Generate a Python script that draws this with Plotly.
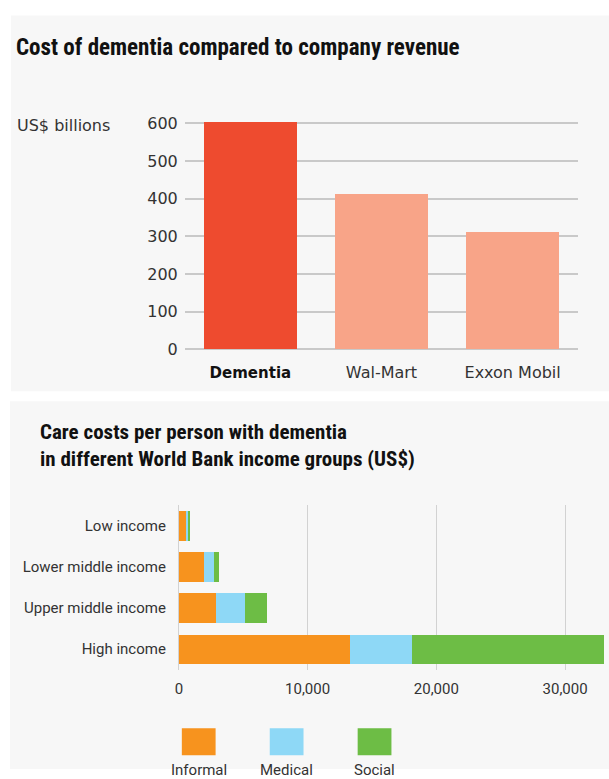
import plotly.graph_objects as go

W, H = 609, 779

# ---- data: top chart ----
companies = ["Dementia", "Wal-Mart", "Exxon Mobil"]
revenue_bn = [604, 412, 311]
company_colors = ["#EE4B2F", "#F8A488", "#F8A488"]
top_ticks = [0, 100, 200, 300, 400, 500, 600]

# ---- data: bottom chart ----
income_groups = ["Low income", "Lower middle income", "Upper middle income", "High income"]
cost_types = ["Informal", "Medical", "Social"]
informal = [540, 1960, 2910, 13310]
medical = [230, 740, 2190, 4790]
social = [90, 410, 1740, 14950]
cost_colors = ["#F7931E", "#8ED8F6", "#6DBD45"]
bottom_ticks = [0, 10000, 20000, 30000]
bottom_ticktext = ["0", "10,000", "20,000", "30,000"]

# screen-pixel -> paper-fraction helpers (empirical correction of the capture)
OY, SY = 6.5, 0.9785
OX = 2.0


def px_x(p):
    return (p - OX) / W


def px_y(p):
    return 1 - ((p - OY) / SY) / H


fig = go.Figure()

fig.add_trace(go.Bar(
    x=companies, y=revenue_bn, marker=dict(color=company_colors, line=dict(width=0)),
    xaxis="x", yaxis="y", showlegend=False, hoverinfo="x+y"))

for name, vals, col in zip(cost_types, [informal, medical, social], cost_colors):
    fig.add_trace(go.Bar(
        y=income_groups, x=vals, orientation="h", name=name,
        marker=dict(color=col, line=dict(width=0)),
        xaxis="x2", yaxis="y2", showlegend=False))

DJ = "DejaVu Sans"
RB = "Roboto"
NARROW = "Liberation Sans Narrow, Roboto Condensed, DejaVu Sans Condensed, Roboto"

x2_left, x2_right = 178, 609
x2_max = (x2_right - x2_left) / 129.6 * 10000

fig.update_layout(
    width=W, height=H, autosize=False,
    margin=dict(l=0, r=0, t=0, b=0),
    paper_bgcolor="white", plot_bgcolor="rgba(0,0,0,0)",
    barmode="stack", bargap=0.288,
    xaxis=dict(domain=[px_x(184), px_x(580)], anchor="y",
               tickvals=companies,
               ticktext=["<span style='font-size:15px;color:#111111'><b>Dementia</b></span>",
                         "Wal-Mart", "Exxon Mobil"],
               tickfont=dict(family=DJ, size=16, color="#333333"),
               showgrid=False, showline=False, ticks="", ticklabelstandoff=12,
               fixedrange=True),
    yaxis=dict(domain=[px_y(349), px_y(120.7)], anchor="x", range=[0, 606],
               tickvals=top_ticks, tickfont=dict(family=DJ, size=16, color="#333333"),
               showgrid=True, gridcolor="#C9C9C9", gridwidth=1.6,
               zeroline=True, zerolinecolor="#C9C9C9", zerolinewidth=1.6,
               showline=False, ticks="", ticklabelstandoff=6, fixedrange=True),
    xaxis2=dict(domain=[px_x(x2_left), min(1, px_x(x2_right))], anchor="y2",
                range=[0, x2_max],
                tickvals=bottom_ticks, ticktext=bottom_ticktext,
                tickfont=dict(family=RB, size=15, color="#333333"),
                showgrid=True, gridcolor="#D2D2D2", gridwidth=1,
                zeroline=True, zerolinecolor="#D2D2D2", zerolinewidth=1,
                showline=False, ticks="", ticklabelstandoff=8, fixedrange=True),
    yaxis2=dict(domain=[px_y(669.5), px_y(505)], anchor="x2",
                categoryorder="array", categoryarray=income_groups, autorange="reversed",
                tickfont=dict(family=RB, size=15, color="#333333"),
                showgrid=False, showline=False, ticks="", ticklabelstandoff=12,
                fixedrange=True),
)

shapes = [
    dict(type="rect", xref="paper", yref="paper", layer="below",
         x0=px_x(9), x1=1, y0=px_y(391), y1=px_y(15),
         fillcolor="#F7F7F7", line=dict(width=0)),
    dict(type="rect", xref="paper", yref="paper", layer="below",
         x0=px_x(8), x1=1, y0=0, y1=px_y(401),
         fillcolor="#F7F7F7", line=dict(width=0)),
]

# legend swatches (drawn under the lower chart)
legend_x = [198, 286.5, 375]
for lx, col, name in zip(legend_x, cost_colors, cost_types):
    shapes.append(dict(type="rect", xref="paper", yref="paper",
                       x0=px_x(lx - 17), x1=px_x(lx + 17), y0=px_y(755), y1=px_y(728),
                       fillcolor=col, line=dict(width=0)))

annotations = [
    dict(text="<b>Cost of dementia compared to company revenue</b>", xref="paper", yref="paper",
         x=px_x(12), y=px_y(47.5), xanchor="left", yanchor="middle", showarrow=False,
         font=dict(family=NARROW, size=23, color="#111111")),
    dict(text="US$ billions", xref="paper", yref="paper",
         x=px_x(13), y=px_y(125), xanchor="left", yanchor="middle", showarrow=False,
         font=dict(family=DJ, size=16, color="#333333")),
    dict(text="<b>Care costs per person with dementia</b><br><b>in different World Bank income groups (US$)</b>",
         xref="paper", yref="paper", align="left",
         x=px_x(36), y=px_y(445.5), xanchor="left", yanchor="middle", showarrow=False,
         font=dict(family=NARROW, size=21, color="#111111")),
]
for lx, name in zip(legend_x, cost_types):
    annotations.append(dict(text=name, xref="paper", yref="paper",
                            x=px_x(lx), y=px_y(770), xanchor="center", yanchor="middle",
                            showarrow=False, font=dict(family=RB, size=15, color="#333333")))

fig.update_layout(shapes=shapes, annotations=annotations)

fig.write_html(
    "out.html",
    config={"displayModeBar": False},
    post_script="document.body.style.margin='0';document.documentElement.style.overflow='hidden';document.body.style.overflow='hidden';",
)
